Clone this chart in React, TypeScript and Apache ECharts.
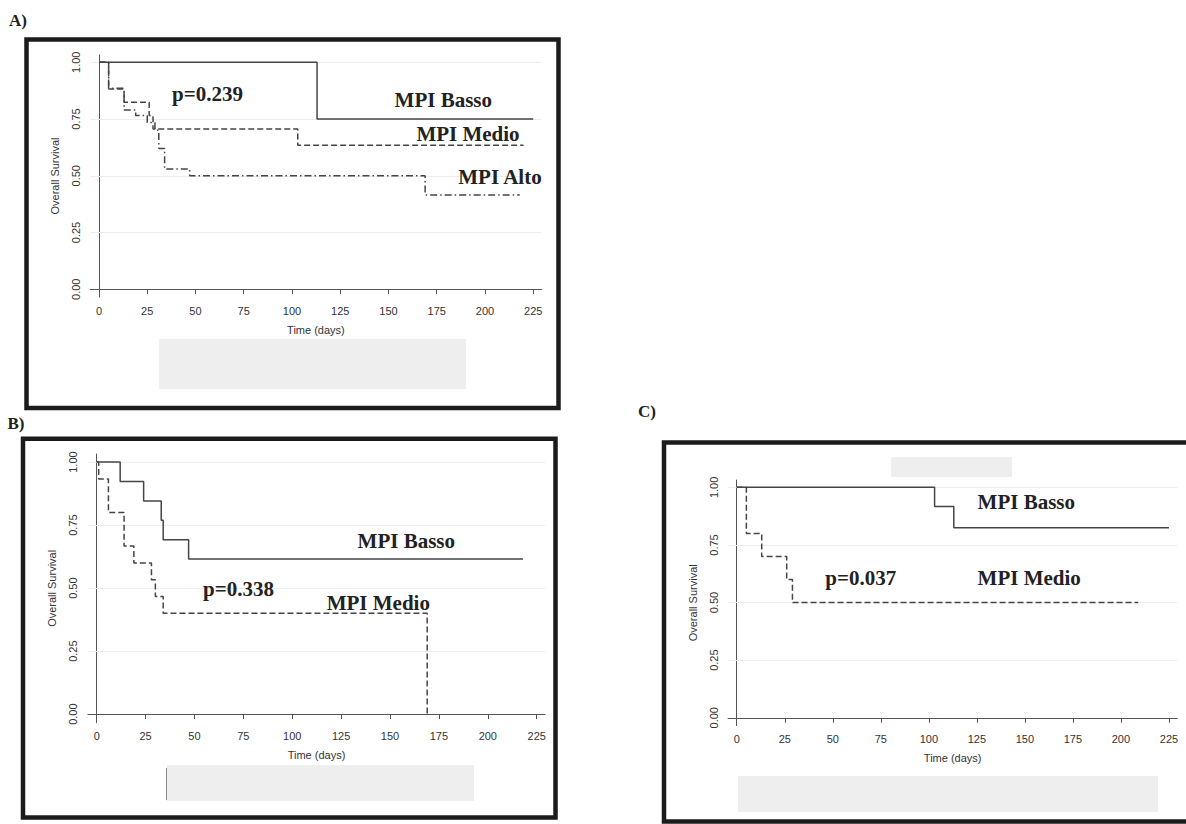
import React, { useEffect, useRef } from "react";
import * as echarts from "echarts";

// ---------- data ----------
const TIME_TICKS = [0, 25, 50, 75, 100, 125, 150, 175, 200, 225];
const SURV_TICKS = [0, 0.25, 0.5, 0.75, 1];
const GRID_LEVELS = [0.25, 0.5, 0.75, 1];

// Panel A
const aBassoT = [0, 113, 225];
const aBassoS = [1, 0.75, 0.75];
const aMedioT = [0, 5, 13, 26, 28, 103, 220];
const aMedioS = [1, 0.882, 0.824, 0.765, 0.706, 0.635, 0.635];
const aAltoT = [0, 5, 13, 19, 25, 29, 31, 34, 47, 169, 218];
const aAltoS = [1, 0.885, 0.79, 0.765, 0.735, 0.7, 0.62, 0.53, 0.5, 0.415, 0.415];

// Panel B
const bBassoT = [0, 12, 24, 33, 34, 47, 218];
const bBassoS = [1, 0.923, 0.846, 0.769, 0.692, 0.615, 0.615];
const bMedioT = [0, 1, 6, 14, 19, 28, 30, 34, 169];
const bMedioS = [1, 0.933, 0.8, 0.667, 0.6, 0.533, 0.467, 0.4, 0];

// Panel C
const cBassoT = [0, 103, 113, 225];
const cBassoS = [1, 0.917, 0.825, 0.825];
const cMedioT = [0, 5, 13, 26, 29, 209];
const cMedioS = [1, 0.8, 0.7, 0.6, 0.5, 0.5];

const pairs = (t: number[], s: number[]) => t.map((x, i) => [x, s[i]]);

const SANS = '"Liberation Sans", Arial, sans-serif';
const SERIF = '"Liberation Serif", "Times New Roman", serif';
const LINE_COLOR = "#454545";

export default function App() {
  const ref = useRef<HTMLDivElement>(null);

  useEffect(() => {
    if (!ref.current) return;
    const chart = echarts.init(ref.current, undefined, { renderer: "svg" });

    const grids = [
      { left: 90.3, top: 55, width: 451.2, height: 242 },
      { left: 87.9, top: 454, width: 457.2, height: 268.7 },
      { left: 728.1, top: 480, width: 449.1, height: 245.6 },
    ];

    const xAxes = grids.map((_, i) => ({
      type: "value",
      gridIndex: i,
      min: -4.5,
      max: 229.3,
      axisLine: { show: true, lineStyle: { color: "#555", width: 1 } },
      axisTick: {
        show: true,
        length: 5,
        customValues: TIME_TICKS,
        lineStyle: { color: "#555" },
      },
      axisLabel: {
        customValues: TIME_TICKS,
        color: "#333",
        fontSize: 11,
        fontFamily: SANS,
        margin: 8,
      },
      splitLine: { show: false },
      name: "Time (days)",
      nameLocation: "middle",
      nameGap: 27,
      nameTextStyle: { color: "#333", fontSize: 11, fontFamily: SANS },
    }));

    const yAxes = grids.map((_, i) => ({
      type: "value",
      gridIndex: i,
      min: -0.034,
      max: 1.032,
      axisLine: { show: true, lineStyle: { color: "#555", width: 1 } },
      axisTick: {
        show: true,
        length: 5,
        customValues: SURV_TICKS,
        lineStyle: { color: "#555" },
      },
      axisLabel: {
        customValues: SURV_TICKS,
        rotate: 90,
        color: "#333",
        fontSize: 11,
        fontFamily: SANS,
        margin: 9,
        formatter: (v: number) => v.toFixed(2),
      },
      splitLine: { show: false },
      name: "Overall Survival",
      nameLocation: "middle",
      nameGap: 30,
      nameTextStyle: { color: "#333", fontSize: 11, fontFamily: SANS },
    }));

    const gridSeries = grids.map((_, i) => ({
      type: "line",
      xAxisIndex: i,
      yAxisIndex: i,
      data: [],
      z: 1,
      silent: true,
      markLine: {
        silent: true,
        z: 1,
        symbol: ["none", "none"],
        label: { show: false },
        lineStyle: { color: "#ececec", type: "solid", width: 1 },
        data: GRID_LEVELS.map((v) => ({ yAxis: v })),
      },
    }));

    const km = (
      i: number,
      name: string,
      t: number[],
      s: number[],
      dash: any
    ) => ({
      type: "line",
      name,
      xAxisIndex: i,
      yAxisIndex: i,
      step: "end",
      showSymbol: false,
      symbol: "none",
      z: 6,
      data: pairs(t, s),
      lineStyle: { color: LINE_COLOR, width: 1.5, type: dash },
    });

    const DASH = [6, 3];
    const DASHDOT = [7, 3, 1.5, 3];

    const annot = (text: string, x: number, y: number, size = 21) => ({
      type: "text",
      x,
      y,
      z: 10,
      style: {
        text,
        font: `bold ${size}px ${SERIF}`,
        fill: "#222",
        align: "center",
        verticalAlign: "middle",
      },
    });

    const frame = (x1: number, y1: number, x2: number, y2: number) => ({
      type: "rect",
      z: 5,
      shape: { x: x1, y: y1, width: x2 - x1, height: y2 - y1 },
      style: { fill: "none", stroke: "#1b1b1b", lineWidth: 4.5 },
    });

    const box = (x1: number, y1: number, x2: number, y2: number) => ({
      type: "rect",
      z: 0,
      shape: { x: x1, y: y1, width: x2 - x1, height: y2 - y1 },
      style: { fill: "#eeeeee" },
    });

    chart.setOption({
      animation: false,
      backgroundColor: "#ffffff",
      grid: grids,
      xAxis: xAxes,
      yAxis: yAxes,
      series: [
        ...gridSeries,
        km(0, "MPI Basso", aBassoT, aBassoS, "solid"),
        km(0, "MPI Medio", aMedioT, aMedioS, DASH),
        km(0, "MPI Alto", aAltoT, aAltoS, DASHDOT),
        km(1, "MPI Basso", bBassoT, bBassoS, "solid"),
        km(1, "MPI Medio", bMedioT, bMedioS, DASH),
        km(2, "MPI Basso", cBassoT, cBassoS, "solid"),
        km(2, "MPI Medio", cMedioT, cMedioS, DASH),
      ],
      graphic: [
        frame(26.5, 39.5, 558.5, 408),
        frame(23, 438.7, 555.5, 817.5),
        frame(664, 442.5, 1200, 821.5),
        box(159, 339, 466, 389),
        box(167, 765, 474, 801),
        {
          type: "line",
          z: 1,
          shape: { x1: 166.5, y1: 768, x2: 166.5, y2: 800 },
          style: { stroke: "#8a8a8a", lineWidth: 1 },
        },
        box(891, 457, 1012, 477),
        box(738, 776, 1158, 812),
        annot("A)", 18, 20, 17),
        annot("B)", 16, 423, 17),
        annot("C)", 647, 411, 17),
        annot("p=0.239", 207.5, 93.7),
        annot("MPI Basso", 443.3, 99.7),
        annot("MPI Medio", 468, 134),
        annot("MPI Alto", 500, 177),
        annot("MPI Basso", 406.3, 541.3),
        annot("p=0.338", 238.5, 588.8),
        annot("MPI Medio", 378.3, 602.8),
        annot("MPI Basso", 1026.3, 502.2),
        annot("p=0.037", 860.8, 578.3),
        annot("MPI Medio", 1029.2, 578.3),
      ],
    });

    return () => chart.dispose();
  }, []);

  return (
    <div
      ref={ref}
      style={{
        position: "absolute",
        left: 0,
        top: 0,
        width: 1186,
        height: 824,
        background: "#fff",
      }}
    />
  );
}
